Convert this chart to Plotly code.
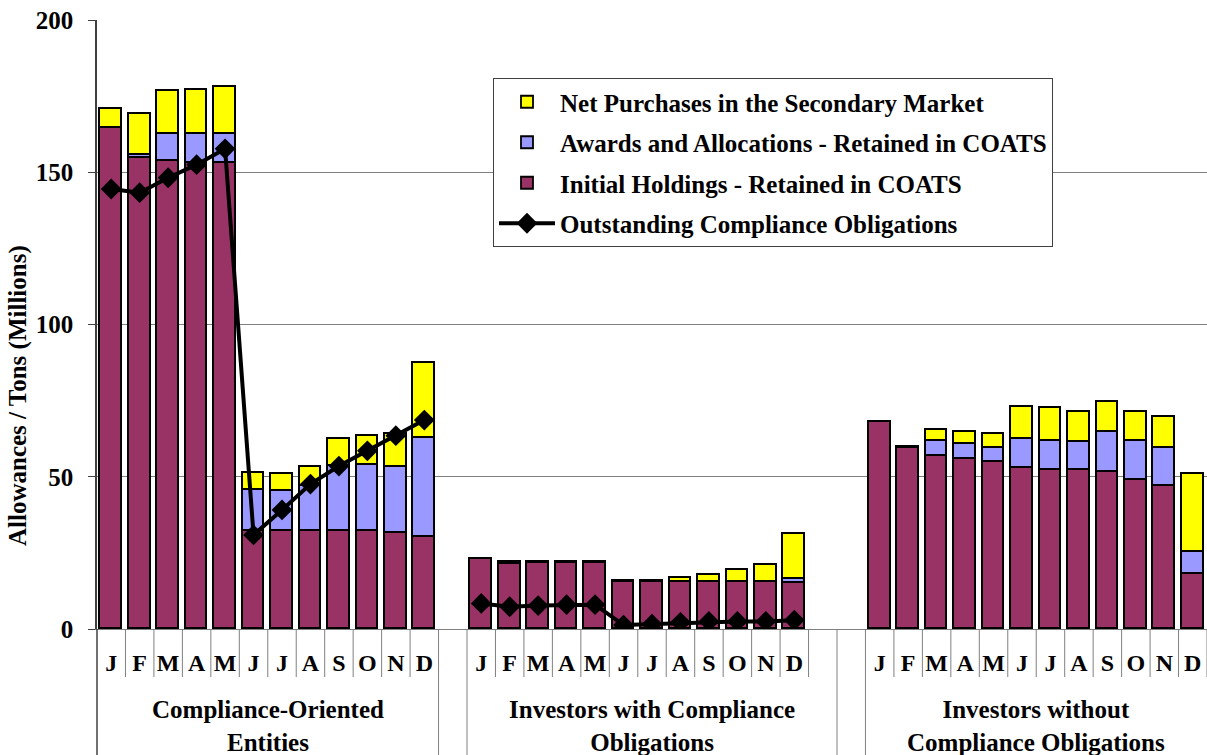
import plotly.graph_objects as go

months = ["J", "F", "M", "A", "M", "J", "J", "A", "S", "O", "N", "D"]
groups = ["Compliance-Oriented<br>Entities",
          "Investors with Compliance<br>Obligations",
          "Investors without<br>Compliance Obligations"]
group_start = [0, 13, 27]   # slot of January in each group (blank slots between groups)

# Initial Holdings - Retained in COATS
initial_g1 = [164.6, 154.6, 153.6, 153.2, 153.2, 32.2, 32.2, 32.2, 32.2, 32.2, 31.6, 30.1]
initial_g2 = [22.9, 21.5, 21.8, 21.8, 21.8, 15.4, 15.4, 15.3, 15.3, 15.3, 15.3, 15.0]
initial_g3 = [68.1, 59.5, 56.8, 55.8, 54.7, 52.9, 52.2, 52.2, 51.6, 48.9, 47.0, 18.2]

# Awards and Allocations - Retained in COATS
awards_g1 = [0.0, 1.1, 9.0, 9.4, 9.4, 13.4, 13.2, 14.9, 21.4, 21.5, 21.6, 32.5]
awards_g2 = [0.0, 0.2, 0.2, 0.2, 0.2, 0.2, 0.2, 0.0, 0.0, 0.0, 0.0, 1.3]
awards_g3 = [0.0, 0.3, 4.8, 5.1, 4.7, 9.6, 9.4, 9.2, 13.1, 12.7, 12.5, 7.1]

# Net Purchases in the Secondary Market
net_g1 = [6.1, 13.5, 14.2, 14.5, 15.5, 5.5, 5.6, 6.1, 8.8, 9.8, 10.7, 24.7]
net_g2 = [0.0, 0.2, 0.0, 0.0, 0.0, 0.1, 0.1, 1.6, 2.3, 4.2, 5.7, 15.0]
net_g3 = [0.0, 0.0, 3.8, 3.8, 4.7, 10.5, 11.0, 9.8, 9.7, 9.8, 10.2, 25.7]

# Outstanding Compliance Obligations (no line for the third group)
oblig_g1 = [144.5, 143.3, 148.2, 152.5, 157.7, 30.9, 39.1, 47.6, 53.5, 58.5, 63.5, 68.6]
oblig_g2 = [8.4, 7.3, 7.7, 8.0, 8.0, 1.3, 1.6, 2.2, 2.5, 2.5, 2.5, 2.9]

MAROON = "#993366"
BLUE = "#9999FF"
YELLOW = "#FFFF00"
FONT = "Liberation Serif"

xs = []
for s in group_start:
    xs += [s + i for i in range(12)]

initial = initial_g1 + initial_g2 + initial_g3
awards = awards_g1 + awards_g2 + awards_g3
net = net_g1 + net_g2 + net_g3

line_x = [group_start[0] + i for i in range(12)] + [None] + [group_start[1] + i for i in range(12)]
line_y = oblig_g1 + [None] + oblig_g2

fig = go.Figure()
bar_line = dict(color="black", width=1.8)
fig.add_trace(go.Bar(x=xs, y=initial, name="Initial Holdings - Retained in COATS",
                     marker=dict(color=MAROON, line=bar_line), width=0.76,
                     legendrank=3, legendgroup="c"))
fig.add_trace(go.Bar(x=xs, y=awards, name="Awards and Allocations - Retained in COATS",
                     marker=dict(color=BLUE, line=bar_line), width=0.76,
                     legendrank=2, legendgroup="b"))
fig.add_trace(go.Bar(x=xs, y=net, name="Net Purchases in the Secondary Market",
                     marker=dict(color=YELLOW, line=bar_line), width=0.76,
                     legendrank=1, legendgroup="a"))
fig.add_trace(go.Scatter(x=line_x, y=line_y, name="Outstanding Compliance Obligations",
                         mode="lines+markers", connectgaps=False,
                         line=dict(color="black", width=4),
                         marker=dict(symbol="diamond", size=16, color="black"),
                         legendrank=4, legendgroup="d"))

# separators in the category-label area
shapes = []
long_b = [11.5, 12.5, 25.5, 26.5]
short_bottom = -48 / 609
long_bottom = -126 / 609
for s in group_start:
    for k in range(13):
        b = s - 0.5 + k
        if b < 0 or b in long_b:
            continue
        shapes.append(dict(type="line", xref="x", yref="paper", x0=b, x1=b,
                           y0=0, y1=short_bottom, line=dict(color="#808080", width=1)))
for b in long_b:
    shapes.append(dict(type="line", xref="x", yref="paper", x0=b, x1=b,
                       y0=0, y1=long_bottom, line=dict(color="#808080", width=1)))
shapes.append(dict(type="line", xref="paper", yref="paper", x0=0, x1=0,
                   y0=0, y1=long_bottom, line=dict(color="#404040", width=1.5)))

annotations = []
for s, g in zip(group_start, groups):
    annotations.append(dict(x=s + 5.5 + (0.5 if s == 13 else 0), y=-97 / 609, xref="x", yref="paper",
                            text=g, showarrow=False,
                            font=dict(family=FONT, size=25, color="black", weight="bold"),
                            xanchor="center", yanchor="middle"))
# y-axis title (placed as in the reference, below the plot-area centre)
annotations.append(dict(x=-79 / 1110, y=(629 - 396) / 609, xref="paper", yref="paper",
                        text="Allowances / Tons (Millions)", textangle=-90, showarrow=False,
                        font=dict(family=FONT, size=25, color="black", weight="bold"),
                        xanchor="center", yanchor="middle"))

fig.update_layout(
    width=1207, height=755,
    margin=dict(l=97, r=0, t=20, b=126, autoexpand=False),
    paper_bgcolor="white", plot_bgcolor="white",
    barmode="stack", bargap=0,
    font=dict(family=FONT, color="black"),
    shapes=shapes, annotations=annotations,
    legend=dict(x=(493 - 97) / 1110, y=(629 - 78) / 609, xanchor="left", yanchor="top",
                bgcolor="white", bordercolor="#404040", borderwidth=1,
                font=dict(family=FONT, size=25, color="black", weight="bold"),
                tracegroupgap=5, itemwidth=56),
    xaxis=dict(range=[-0.5, 38.5], tickmode="array", tickvals=xs,
               ticktext=months * 3, automargin=False,
               tickfont=dict(family=FONT, size=24, color="black", weight="bold"),
               showgrid=False, zeroline=False, ticks="", showline=True,
               linecolor="#808080", linewidth=1, ticklabelstandoff=12),
    yaxis=dict(range=[0, 200], dtick=50, tick0=0, showgrid=True, gridcolor="#808080",
               gridwidth=1, zeroline=False, showline=True, linecolor="#404040",
               linewidth=1.5, ticks="outside", ticklen=7, tickcolor="#404040",
               automargin=False, ticklabelstandoff=10,
               tickfont=dict(family=FONT, size=25, color="black", weight="bold")),
)

fig.write_html("out.html", config={"displayModeBar": False},
               post_script="document.body.style.margin='0';document.body.style.overflow='hidden';")
